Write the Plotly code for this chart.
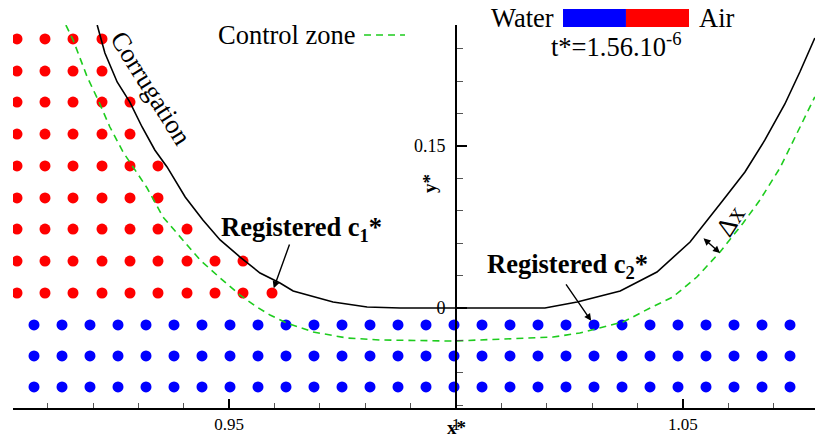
import plotly.graph_objects as go

# ---- particle grid (x*, y*) ----
air_cols = [0.90322, 0.90939, 0.91557, 0.92196, 0.92813, 0.93430, 0.94070, 0.94687, 0.95304, 0.95944]
air_rows = [0.2491, 0.2194, 0.1907, 0.1611, 0.1315, 0.1019, 0.0731, 0.0435, 0.0139]
air_counts = [4, 4, 5, 5, 6, 6, 7, 9, 10]

water_cols = [0.90697, 0.91314, 0.91931, 0.92549, 0.93166, 0.93783, 0.94400, 0.95018, 0.95635,
              0.96252, 0.96869, 0.97487, 0.98104, 0.98721, 0.99339, 0.99956, 1.00573, 1.01190,
              1.01808, 1.02425, 1.03042, 1.03660, 1.04277, 1.04894, 1.05511, 1.06129, 1.06746,
              1.07363]
water_rows = [-0.0157, -0.0444, -0.0731]

# ---- corrugation wall profile ----
wall_x = [0.9209, 0.9226, 0.9253, 0.9281, 0.9308, 0.9336, 0.9363, 0.9403, 0.9442, 0.9480,
          0.9524, 0.9568, 0.9612, 0.9641, 0.9729, 0.9804, 0.9877, 1.0196, 1.0267, 1.0362,
          1.0443, 1.0516, 1.0589, 1.0637, 1.0681, 1.0725, 1.0758, 1.0791]
wall_y = [0.2620, 0.2361, 0.2093, 0.1907, 0.1676, 0.1463, 0.1306, 0.1028, 0.0815, 0.0630,
          0.0472, 0.0324, 0.0231, 0.0157, 0.0056, 0.0009, 0.0, 0.0, 0.0056, 0.0157,
          0.0333, 0.0611, 0.1000, 0.1259, 0.1556, 0.1889, 0.2185, 0.2500]

# ---- control zone (offset of the wall by delta x) ----
zone_x = [0.9140, 0.9156, 0.9187, 0.9211, 0.9237, 0.9266, 0.9288, 0.9319, 0.9354, 0.9392,
          0.9436, 0.9480, 0.9524, 0.9561, 0.9590, 0.9627, 0.9685, 0.9760, 0.9832, 0.9993,
          1.0126, 1.0214, 1.0273, 1.0368, 1.0428, 1.0478, 1.0531, 1.0582, 1.0633, 1.0670,
          1.0714, 1.0754, 1.0791]
zone_y = [0.2620, 0.2481, 0.2139, 0.1926, 0.1676, 0.1444, 0.1306, 0.1111, 0.0843, 0.0657,
          0.0444, 0.0278, 0.0120, 0.0009, -0.0065, -0.0139, -0.0222, -0.0278, -0.0296, -0.0306,
          -0.0287, -0.0269, -0.0231, -0.0130, 0.0, 0.0102, 0.0287, 0.0519, 0.0787, 0.1000,
          0.1296, 0.1630, 0.1954]

# registered particles
c1 = (air_cols[9], air_rows[8])
c2 = (water_cols[20], water_rows[0])

x_range = [0.90234, 1.07914]
y_range = [-0.09259, 0.26204]

SERIF = "Liberation Serif, Times New Roman, serif"
RED = "#ff0000"
BLUE = "#0000ff"
GREEN = "#1ecc1e"

air_x, air_y = [], []
for yv, n in zip(air_rows, air_counts):
    for xv in air_cols[:n]:
        air_x.append(xv)
        air_y.append(yv)

water_x, water_y = [], []
for yv in water_rows:
    for xv in water_cols:
        water_x.append(xv)
        water_y.append(yv)

fig = go.Figure()
fig.add_trace(go.Scatter(x=air_x, y=air_y, mode="markers",
                         marker=dict(color=RED, size=11, line=dict(width=0)), name="Air"))
fig.add_trace(go.Scatter(x=water_x, y=water_y, mode="markers",
                         marker=dict(color=BLUE, size=11, line=dict(width=0)), name="Water"))
fig.add_trace(go.Scatter(x=wall_x, y=wall_y, mode="lines",
                         line=dict(color="black", width=1.6), name="Corrugation"))
fig.add_trace(go.Scatter(x=zone_x, y=zone_y, mode="lines",
                         line=dict(color=GREEN, width=1.6, dash="7px,5px"), name="Control zone"))

big = dict(family=SERIF, size=26.5, color="black")
label = dict(family=SERIF, size=19, color="black")
annotations = [
    dict(text="Control zone", x=0.4302, y=0.9739, xanchor="right", font=big),
    dict(text="Water", x=0.6771, y=1.0183, xanchor="right", font=big),
    dict(text="Air", x=0.8529, y=1.0183, xanchor="left", font=big),
    dict(text="t*=1.56.10<sup>-6</sup>", x=0.7519, y=0.9478, font=big),
    dict(text="Corrugation", x=0.1721, y=0.8355, textangle=58, font=big),
    dict(text="<b>Registered c<sub>1</sub>*</b>", x=0.3603, y=0.4674, font=big),
    dict(text="<b>Registered c<sub>2</sub>*</b>", x=0.6920, y=0.3708, font=big),
    dict(text="\u0394x", x=0.8940, y=0.4883, textangle=-57, font=big),
    dict(text="<b>y*</b>", x=0.5200, y=0.5850, textangle=-90, font=label),
    dict(text="<b>x*</b>", x=0.5536, y=-0.0500, font=label),
]
for a in annotations:
    a.setdefault("xanchor", "center")
    a.update(xref="paper", yref="paper", yanchor="middle", showarrow=False)

arrows = [
    dict(x=c1[0], y=c1[1], ax=18, ay=-50, arrowside="end", standoff=5),
    dict(x=c2[0], y=c2[1], ax=-29, ay=-42, arrowside="end", standoff=5),
    dict(x=1.0582, y=0.0509, ax=-18, ay=-16, arrowside="end+start", standoff=0),
]
for a in arrows:
    a.update(xref="x", yref="y", text="", showarrow=True, arrowhead=2, arrowsize=1,
             arrowwidth=1.4, arrowcolor="black", startstandoff=0)
    annotations.append(a)

shapes = [
    # colour key for the phases
    dict(type="rect", xref="paper", yref="paper", x0=0.6858, x1=0.7643, y0=0.9948, y1=1.0418,
         fillcolor=BLUE, line=dict(width=0)),
    dict(type="rect", xref="paper", yref="paper", x0=0.7643, x1=0.8429, y0=0.9948, y1=1.0418,
         fillcolor=RED, line=dict(width=0)),
    # dashed sample next to "Control zone"
    dict(type="line", xref="paper", yref="paper", x0=0.4377, x1=0.4888, y0=0.9739, y1=0.9739,
         line=dict(color=GREEN, width=1.6, dash="7px,5px")),
]

y_pos = (1 - x_range[0]) / (x_range[1] - x_range[0])

fig.update_layout(
    width=815, height=439,
    margin=dict(l=13, r=0, t=25, b=31),
    paper_bgcolor="white", plot_bgcolor="white",
    showlegend=False,
    annotations=annotations,
    shapes=shapes,
    font=dict(family=SERIF, color="black"),
    xaxis=dict(range=x_range, showgrid=False, zeroline=False, showline=True,
               linecolor="black", linewidth=2, ticks="inside", ticklen=9, tickwidth=1.5,
               tickcolor="black", tick0=0.95, dtick=0.05, tickformat="~g",
               tickfont=dict(family=SERIF, size=17, color="black"),
               minor=dict(ticks="inside", ticklen=5, tickwidth=1, tickcolor="#555",
                          dtick=0.01, tick0=0.95)),
    yaxis=dict(range=y_range, showgrid=False, zeroline=False, showline=True,
               linecolor="black", linewidth=2, anchor="free", position=y_pos,
               ticks="inside", ticklen=10, tickwidth=1.5, tickcolor="black",
               tick0=0, dtick=0.15, tickformat="~g", ticklabelstandoff=6,
               tickfont=dict(family=SERIF, size=18, color="black"),
               minor=dict(ticks="inside", ticklen=6, tickwidth=1, tickcolor="#555",
                          dtick=0.03, tick0=0)),
)

fig.write_html("out.html")
